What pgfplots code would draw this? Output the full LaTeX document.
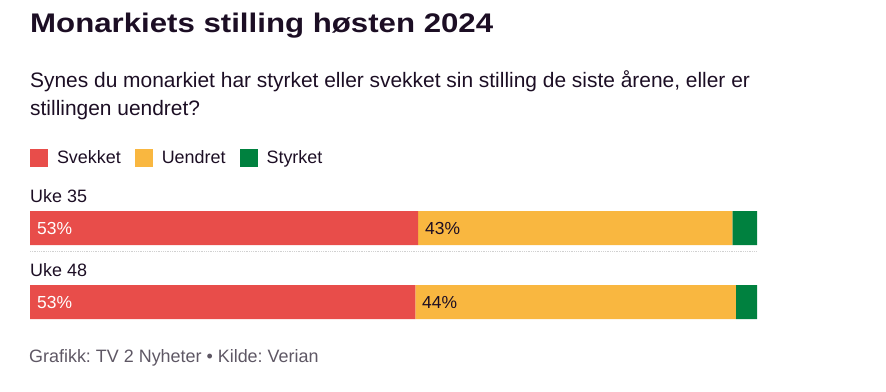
\documentclass[border=0pt]{standalone}
\usepackage{pgfplots}
\pgfplotsset{compat=1.18}
\usepackage{fontspec}
\setmainfont{Liberation Sans}
\newfontfamily\titlefont{Liberation Sans}[FakeStretch=1.16]
\definecolor{cred}{HTML}{E84D4A}
\definecolor{cyellow}{HTML}{F9B740}
\definecolor{cgreen}{HTML}{00813F}
\definecolor{tdark}{HTML}{1C0E24}
\definecolor{tgray}{HTML}{5E5764}
\pgfplotsset{sqlegend/.style={legend image code/.code={\fill[##1] (0bp,-9bp) rectangle (18bp,9bp);}}}
\begin{document}
\frenchspacing
\begin{tikzpicture}
\path (0bp,0bp) rectangle (886bp,-392bp);
\node[anchor=base west, inner sep=0pt, text=tdark, font=\titlefont\fontsize{27}{27}\selectfont\bfseries] at (30bp,-32bp) {Monarkiets stilling høsten 2024};
\node[anchor=base west, inner sep=0pt, text=tdark, font=\fontsize{21}{21}\selectfont] at (30bp,-87bp) {Synes du monarkiet har styrket eller svekket sin stilling de siste årene, eller er};
\node[anchor=base west, inner sep=0pt, text=tdark, font=\fontsize{21}{21}\selectfont] at (30bp,-115bp) {stillingen uendret?};
\node[anchor=base west, inner sep=0pt, text=tdark, font=\fontsize{18}{18}\selectfont] at (30bp,-202bp) {Uke 35};
\node[anchor=base west, inner sep=0pt, text=tdark, font=\fontsize{18}{18}\selectfont] at (30bp,-276bp) {Uke 48};
\node[anchor=base west, inner sep=0pt, text=tgray, font=\fontsize{18}{18}\selectfont] at (29bp,-362bp) {Grafikk: TV 2 Nyheter • Kilde: Verian};
\begin{axis}[
  at={(30bp,-191bp)}, anchor=north west,
  scale only axis, width=727bp, height=148bp,
  xmin=0, xmax=100, ymin=-0.5, ymax=1.5, y dir=reverse,
  hide axis, clip=false,
  xbar stacked, bar width=34bp,
  legend columns=3,
  legend style={at={(0,1.284)}, anchor=north west, draw=none, fill=none,
    inner sep=0pt, outer sep=0pt,
    font=\fontsize{18}{18}\selectfont, text=tdark,
    nodes={inner sep=0pt},
    /tikz/every odd column/.append style={column sep=9bp},
    /tikz/every even column/.append style={column sep=14bp}},
]
\addplot[fill=cred, draw=none, sqlegend] coordinates {(53.4,0) (53.0,1)};
\addplot[fill=cyellow, draw=none, sqlegend] coordinates {(43.2,0) (44.1,1)};
\addplot[fill=cgreen, draw=none, sqlegend] coordinates {(3.4,0) (2.9,1)};
\legend{Svekket, Uendret, Styrket}
\draw[densely dotted, black!18, line width=0.8bp] (axis cs:0,0.31) -- (axis cs:100,0.31);
\end{axis}
\node[anchor=base west, inner sep=0pt, text=white, font=\fontsize{17.5}{17.5}\selectfont] at (37bp,-234bp) {53\%};
\node[anchor=base west, inner sep=0pt, text=tdark, font=\fontsize{17.5}{17.5}\selectfont] at (425bp,-234bp) {43\%};
\node[anchor=base west, inner sep=0pt, text=white, font=\fontsize{17.5}{17.5}\selectfont] at (37bp,-308bp) {53\%};
\node[anchor=base west, inner sep=0pt, text=tdark, font=\fontsize{17.5}{17.5}\selectfont] at (422bp,-308bp) {44\%};
\end{tikzpicture}
\end{document}
